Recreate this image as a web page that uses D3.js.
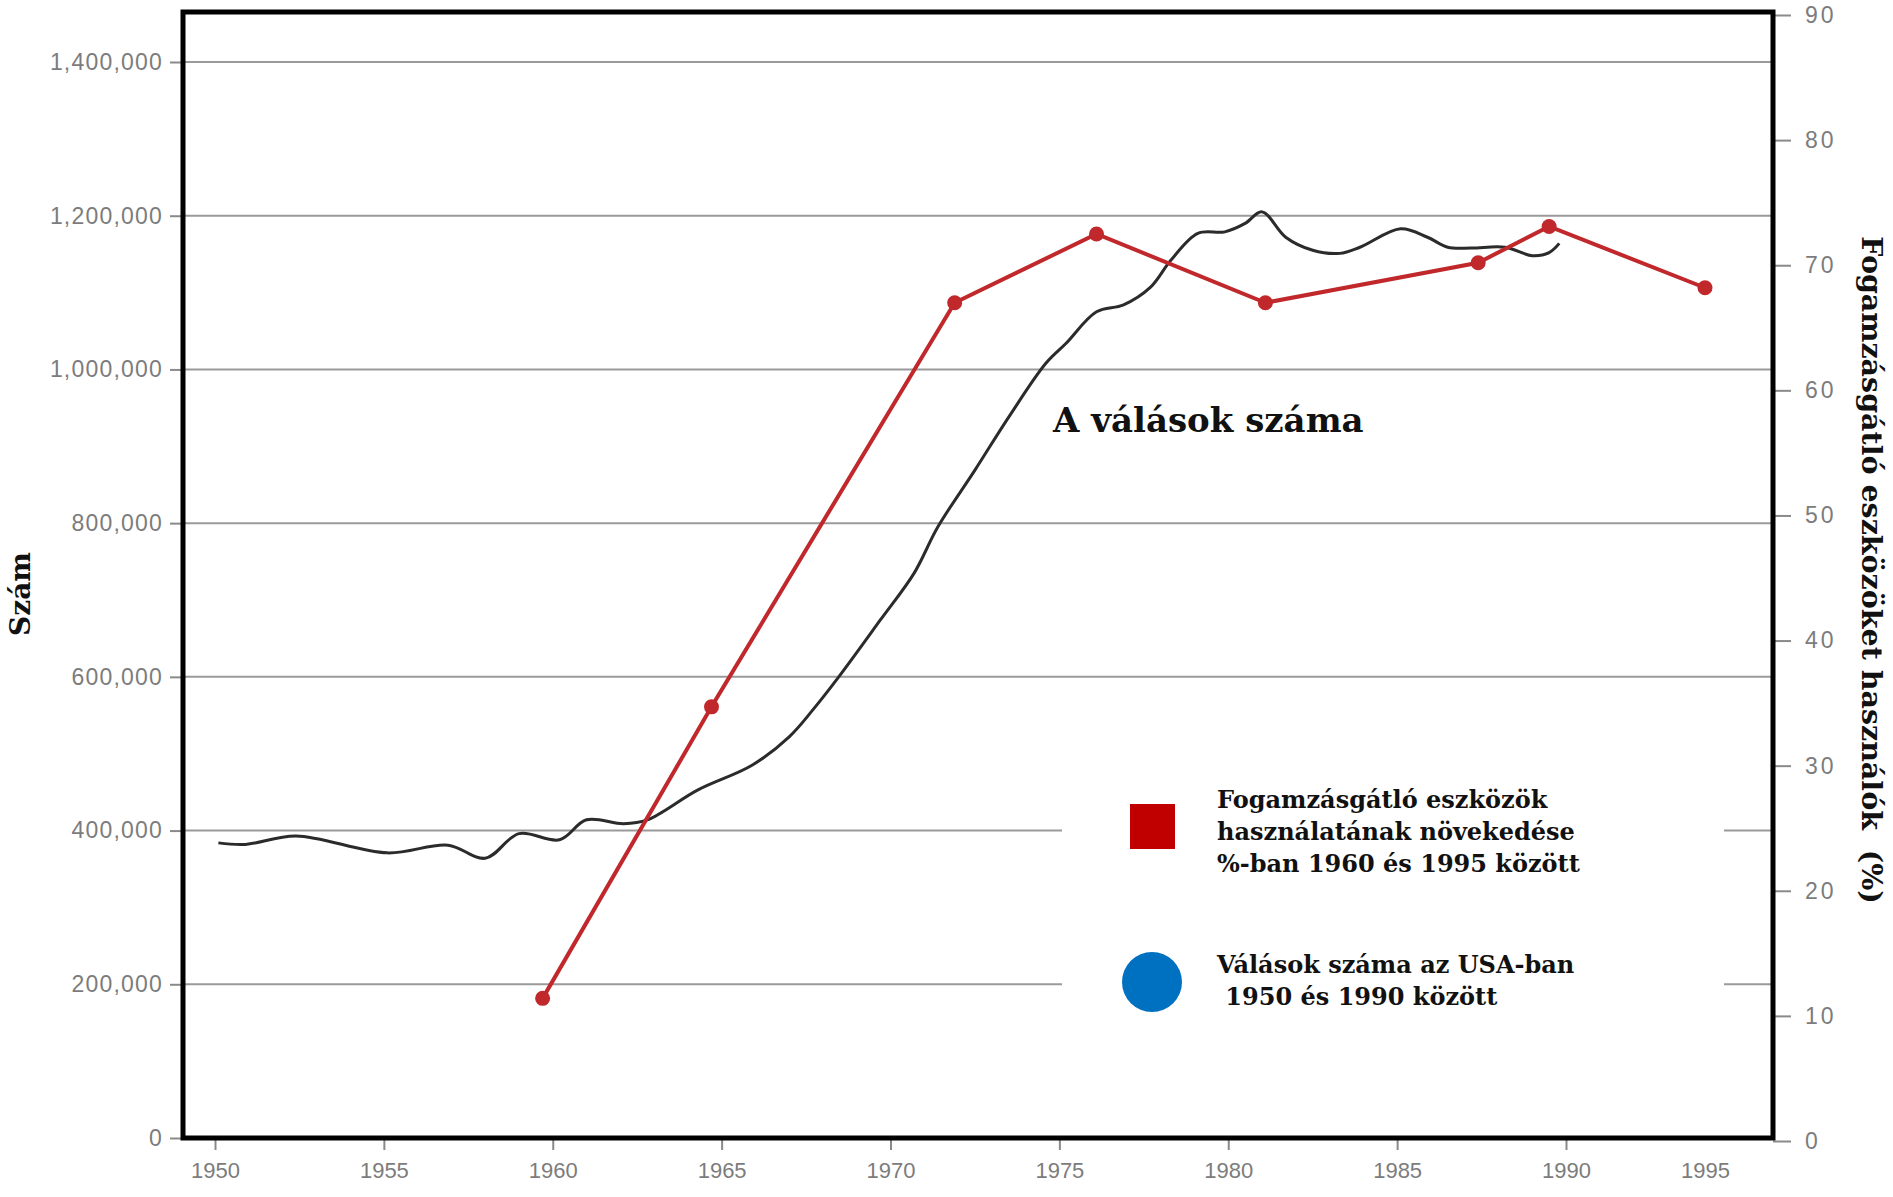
<!DOCTYPE html>
<html>
<head>
<meta charset="utf-8">
<script src="https://cdn.jsdelivr.net/npm/d3@7"></script>
<style>
  body { margin: 0; background: #fff; }
  .tick text { font-family: "Liberation Sans", Arial, sans-serif; fill: #7c7c7c; }
  .slab { font-family: "DejaVu Serif", serif; font-weight: bold; fill: #111; }
</style>
</head>
<body>
<div id="chart"></div>
<script>
// divorces in the USA
var divorceYears = [1950.1, 1950.9, 1952.4, 1955.1, 1956.9, 1958.0, 1959.0, 1960.2, 1961.0, 1962.1,
    1962.8, 1964.3, 1965.9, 1967.0, 1967.7, 1968.4, 1969.7, 1970.7, 1971.4, 1972.5,
    1973.5, 1974.6, 1975.2, 1976.1, 1976.9, 1977.7, 1978.3, 1979.1, 1979.9, 1980.5,
    1981.0, 1981.7, 1982.5, 1983.3, 1983.9, 1985.1, 1985.9, 1986.5, 1987.2, 1988.2,
    1989.0, 1989.5, 1989.8];
var divorceCounts = [384000, 382000, 393000, 371000, 381000, 364000, 396000, 388000, 414000, 409000,
    414000, 453000, 485000, 522000, 557000, 596000, 674000, 735000, 795000, 869000,
    938000, 1008000, 1034000, 1075000, 1084000, 1107000, 1142000, 1177000, 1179000, 1190000,
    1205000, 1172000, 1155000, 1151000, 1159000, 1183000, 1172000, 1159000, 1158000, 1159000,
    1148000, 1152000, 1164000];

// contraceptive users in percent (red line)
var pillYears = [1959.7, 1964.7, 1971.9, 1976.1, 1981.1, 1987.4, 1989.5, 1995];
var pillPercent = [11.4, 34.7, 67, 72.5, 67, 70.2, 73.1, 68.2];

// tick labels
var yearTicks = [1950, 1955, 1960, 1965, 1970, 1975, 1980, 1985, 1990, 1995];
var countTicks = [0, 200000, 400000, 600000, 800000, 1000000, 1200000, 1400000];
var percentTicks = [0, 10, 20, 30, 40, 50, 60, 70, 80, 90];

var legendRed = ["Fogamzásgátló eszközök", "használatának növekedése", "%-ban 1960 és 1995 között"];
var legendBlue = ["Válások száma az USA-ban", " 1950 és 1990 között"];

function draw() {
    var w = 1893;
    var h = 1197;
    var left = 183, right = 1773, top = 12, bottom = 1138;

    var svg = d3.select("#chart")
        .append("svg")
        .attr("width", w)
        .attr("height", h);

    svg.append("rect").attr("width", w).attr("height", h).attr("fill", "#fff");

    // x scale, the last 5 years are squeezed in the original
    var x = d3.scaleLinear()
        .domain([1950, 1990, 1995])
        .range([215, 1566, 1705]);
    var yL = d3.scaleLinear().domain([0, 1400000]).range([bottom, 62]);
    var yR = d3.scaleLinear().domain([0, 90]).range([1141, 15]);

    // grid lines
    svg.append("g")
        .selectAll("line")
        .data(countTicks.slice(1))
        .enter()
        .append("line")
        .attr("x1", left)
        .attr("x2", right)
        .attr("y1", function(d) { return yL(d); })
        .attr("y2", function(d) { return yL(d); })
        .attr("stroke", "#9a9a9a")
        .attr("stroke-width", 2);

    // white patch behind the legend
    svg.append("rect")
        .attr("x", 1062).attr("y", 720)
        .attr("width", 662).attr("height", 340)
        .attr("fill", "#fff");

    // axes
    var axL = svg.append("g")
        .attr("transform", "translate(" + left + ",0)")
        .call(d3.axisLeft(yL).tickValues(countTicks).tickFormat(d3.format(",")).tickSize(13).tickPadding(7));
    axL.selectAll("text").style("font-size", "23px").style("letter-spacing", "1.2px");

    var axB = svg.append("g")
        .attr("transform", "translate(0," + bottom + ")")
        .call(d3.axisBottom(x).tickValues(yearTicks).tickFormat(d3.format("d")).tickSize(12).tickPadding(12));
    axB.selectAll("text").style("font-size", "22px");
    axB.selectAll(".tick line").filter(function(d) { return d == 1995; }).remove();

    var axR = svg.append("g")
        .attr("transform", "translate(" + right + ",0)")
        .call(d3.axisRight(yR).tickValues(percentTicks).tickSize(18).tickPadding(14));
    axR.selectAll("text").style("font-size", "23px").style("letter-spacing", "3px");

    svg.selectAll(".domain").remove();
    svg.selectAll(".tick line").attr("stroke", "#8a8a8a").attr("stroke-width", 2);

    // frame
    svg.append("rect")
        .attr("x", left).attr("y", top)
        .attr("width", right - left).attr("height", bottom - top)
        .attr("fill", "none")
        .attr("stroke", "#000")
        .attr("stroke-width", 5);

    // divorce curve
    var divorce = divorceYears.map(function(d, i) { return [d, divorceCounts[i]]; });
    var line = d3.line()
        .x(function(d) { return x(d[0]); })
        .y(function(d) { return yL(d[1]); })
        .curve(d3.curveCatmullRom.alpha(0.5));
    svg.append("path")
        .datum(divorce)
        .attr("d", line)
        .attr("fill", "none")
        .attr("stroke", "#2b2b2b")
        .attr("stroke-width", 3);

    // contraceptive line + dots
    var pill = pillYears.map(function(d, i) { return [d, pillPercent[i]]; });
    var redLine = d3.line()
        .x(function(d) { return x(d[0]); })
        .y(function(d) { return yR(d[1]); });
    svg.append("path")
        .datum(pill)
        .attr("d", redLine)
        .attr("fill", "none")
        .attr("stroke", "#c0282c")
        .attr("stroke-width", 4);
    svg.append("g")
        .selectAll("circle")
        .data(pill)
        .enter()
        .append("circle")
        .attr("cx", function(d) { return x(d[0]); })
        .attr("cy", function(d) { return yR(d[1]); })
        .attr("r", 7.5)
        .attr("fill", "#c0282c");

    // label on the curve
    svg.append("text")
        .attr("class", "slab")
        .attr("x", 1053).attr("y", 432)
        .style("font-size", "34px")
        .text("A válások száma");

    // legend
    svg.append("rect")
        .attr("x", 1130).attr("y", 804)
        .attr("width", 45).attr("height", 45)
        .attr("fill", "#c00000");
    svg.append("g")
        .selectAll("text")
        .data(legendRed)
        .enter()
        .append("text")
        .attr("class", "slab")
        .attr("x", 1217)
        .attr("y", function(d, i) { return 808 + i * 32; })
        .style("font-size", "24px")
        .text(function(d) { return d; });

    svg.append("circle")
        .attr("cx", 1152).attr("cy", 982).attr("r", 30)
        .attr("fill", "#0070c0");
    svg.append("g")
        .selectAll("text")
        .data(legendBlue)
        .enter()
        .append("text")
        .attr("class", "slab")
        .attr("x", 1217)
        .attr("y", function(d, i) { return 973 + i * 32; })
        .style("font-size", "24px")
        .style("white-space", "pre")
        .text(function(d) { return d; });

    // axis titles
    svg.append("text")
        .attr("class", "slab")
        .attr("transform", "translate(30,594) rotate(-90)")
        .attr("text-anchor", "middle")
        .style("font-size", "28px")
        .text("Szám");

    svg.append("text")
        .attr("class", "slab")
        .attr("transform", "translate(1862,570) rotate(90)")
        .attr("text-anchor", "middle")
        .style("font-size", "28.5px")
        .style("white-space", "pre")
        .text("Fogamzásgátló eszközöket használók  (%)");
}

window.onload = draw;
</script>
</body>
</html>
